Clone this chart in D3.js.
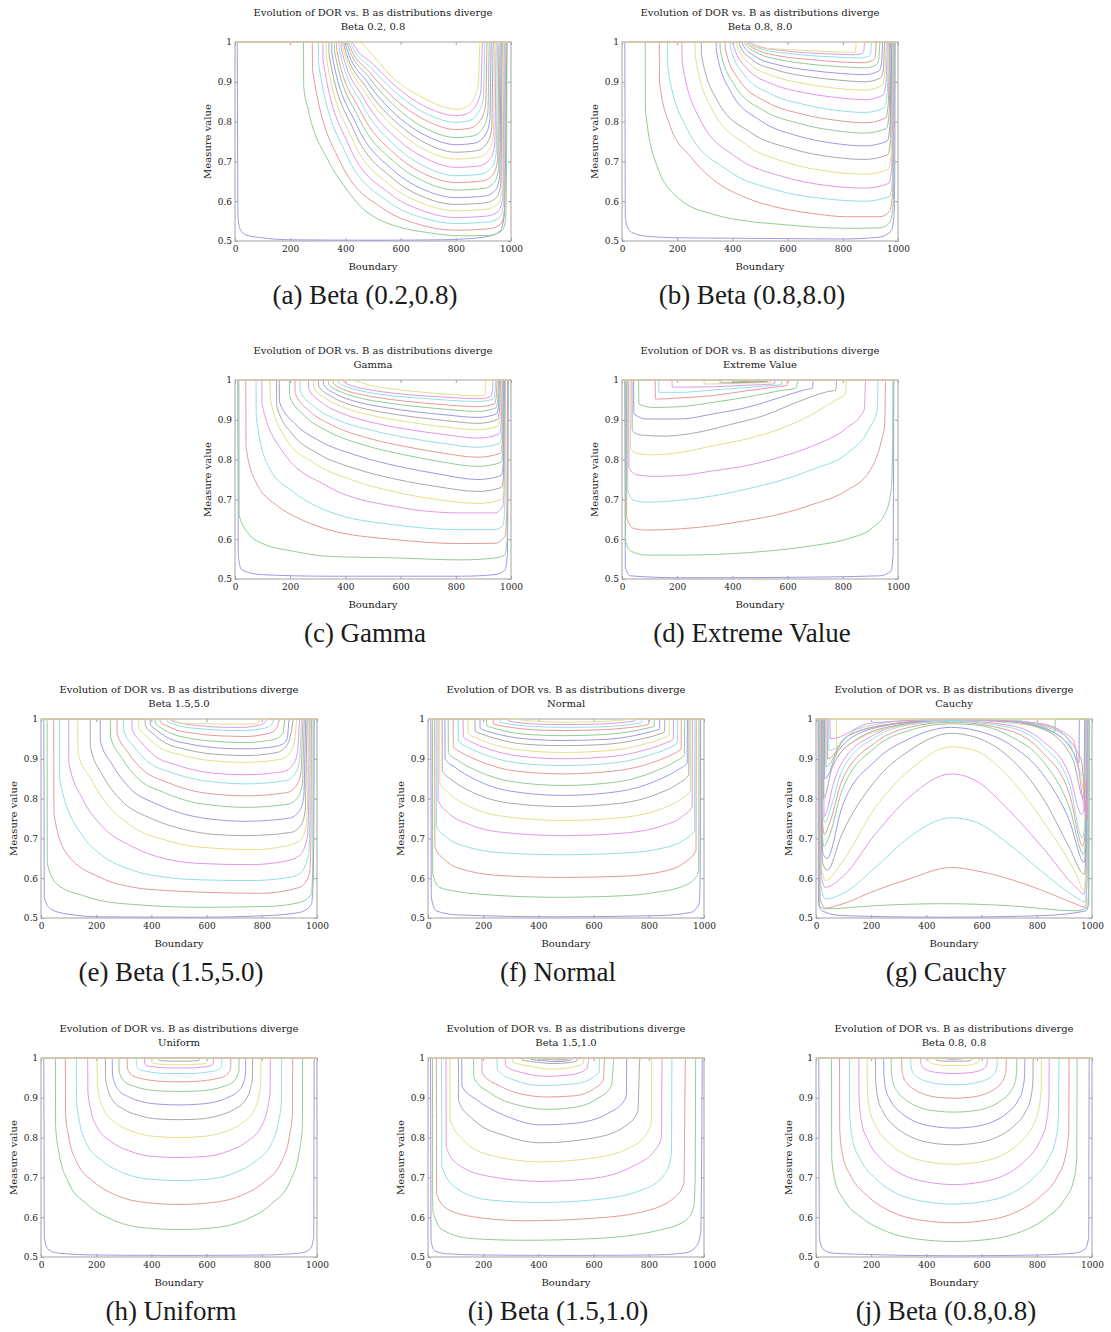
<!DOCTYPE html>
<html>
<head>
<meta charset="utf-8">
<script src="https://cdn.jsdelivr.net/npm/d3@7"></script>
<style>
  body { margin: 0; background: #fff; }
  text { font-family: "DejaVu Serif", serif; fill: #1a1a1a; }
  .caption { font-family: "Liberation Serif", serif; font-size: 27px; }
</style>
</head>
<body>
<svg id="fig" width="1111" height="1332"></svg>
<script>
// colour cycle of the plotting tool: b g r c m y k (faded)
const palette = ["#9a9ae6", "#93cc93", "#e69a9a", "#93dfe6", "#df9ae6", "#e3e08e", "#a9a9a9"];
const xTicks = [0, 200, 400, 600, 800, 1000];
const yTicks = [0.5, 0.6, 0.7, 0.8, 0.9, 1];
const mainTitle = "Evolution of DOR vs. B as distributions diverge";

// each curve: [boundary, measure] pairs
const curvesA = [
  [[0,1],[8,1],[9,.8],[11,.56],[18,.53],[40,.515],[100,.508],[200,.503],[500,.502],[750,.503],[850,.506],[920,.512],[960,.525],[975,.56],[982,.8],[985,1],[1000,1]],
  [[0,1],[248,1],[249,.888],[266,.828],[338,.702],[399,.635],[459,.584],[519,.555],[580,.538],[700,.521],[820,.513],[918,.514],[966,.525],[980,.55],[984,.7],[986,1],[1000,1]],
  [[0,1],[280,1],[281,.929],[384,.695],[540,.580],[670,.541],[800,.527],[922,.531],[962,.542],[976,.575],[982,1],[1000,1]],
  [[0,1],[302,1],[303,.945],[402,.719],[551,.601],[676,.559],[800,.544],[919,.548],[959,.560],[973,.593],[979,1],[1000,1]],
  [[0,1],[318,1],[319,.955],[414,.738],[559,.620],[680,.576],[800,.559],[916,.563],[956,.576],[970,.610],[976,1],[1000,1]],
  [[0,1],[330,1],[331,.962],[424,.758],[565,.639],[682,.594],[800,.576],[913,.580],[953,.594],[967,.628],[973,1],[1000,1]],
  [[0,1],[340,1],[341,.968],[432,.776],[570,.658],[685,.610],[800,.592],[909,.596],[949,.611],[963,.644],[969,1],[1000,1]],
  [[0,1],[350,1],[351,.972],[440,.793],[575,.677],[688,.628],[800,.609],[905,.613],[945,.629],[959,.662],[965,1],[1000,1]],
  [[0,1],[360,1],[361,.976],[448,.810],[580,.697],[690,.648],[800,.628],[901,.632],[941,.649],[955,.682],[961,1],[1000,1]],
  [[0,1],[368,1],[369,.979],[454,.827],[584,.716],[692,.667],[800,.647],[897,.651],[937,.669],[951,.702],[957,1],[1000,1]],
  [[0,1],[377,1],[378,.982],[462,.842],[589,.734],[694,.685],[800,.664],[892,.668],[932,.687],[946,.720],[952,1],[1000,1]],
  [[0,1],[384,1],[385,.984],[467,.858],[592,.754],[696,.706],[800,.685],[887,.689],[927,.709],[941,.742],[947,1],[1000,1]],
  [[0,1],[390,1],[391,.986],[472,.873],[595,.774],[698,.726],[800,.706],[882,.710],[922,.731],[936,.764],[942,1],[1000,1]],
  [[0,1],[395,1],[396,.988],[476,.885],[598,.790],[699,.743],[800,.723],[876,.727],[916,.749],[930,.782],[936,1],[1000,1]],
  [[0,1],[401,1],[402,.990],[481,.898],[600,.807],[700,.762],[800,.742],[869,.746],[909,.769],[923,.802],[929,1],[1000,1]],
  [[0,1],[407,1],[408,.992],[486,.911],[603,.824],[702,.779],[800,.760],[862,.764],[902,.788],[916,.821],[922,1],[1000,1]],
  [[0,1],[413,1],[414,.993],[490,.922],[606,.841],[703,.799],[800,.780],[854,.784],[894,.809],[908,.842],[914,1],[1000,1]],
  [[0,1],[420,1],[421,.995],[496,.933],[610,.857],[705,.816],[800,.798],[846,.802],[886,.828],[900,.861],[906,1],[1000,1]],
  [[0,1],[427,1],[428,.997],[502,.943],[613,.871],[707,.832],[800,.815],[837,.819],[877,.846],[891,.879],[897,1],[1000,1]],
  [[0,1],[447,1],[507,.96],[580,.905],[640,.876],[700,.853],[760,.836],[805,.831],[845,.84],[870,.865],[882,.895],[888,1],[1000,1]]
];

const curvesB = [
  [[0,1],[10,1],[11,.8],[12,.56],[20,.535],[40,.52],[90,.512],[211,.508],[400,.507],[600,.506],[800,.505],[934,.51],[975,.525],[985,.56],[988,.65],[990,1],[1000,1]],
  [[0,1],[84,1],[85,.829],[127,.688],[211,.604],[331,.567],[452,.55],[572,.542],[693,.535],[813,.532],[934,.533],[970,.546],[982,.588],[986,.8],[987,1],[1000,1]],
  [[0,1],[135,1],[136,.9],[175,.788],[247,.713],[331,.654],[452,.608],[572,.583],[693,.569],[813,.561],[934,.561],[970,.575],[980,.62],[984,.8],[985,1],[1000,1]],
  [[0,1],[165,1],[166,.935],[237,.78],[380,.679],[558,.628],[737,.606],[880,.6],[969,.612],[979,.65],[984,1],[1000,1]],
  [[0,1],[217,1],[218,.95],[283,.805],[416,.71],[582,.662],[747,.639],[880,.633],[967,.645],[977,.683],[982,1],[1000,1]],
  [[0,1],[265,1],[266,.962],[327,.83],[450,.742],[603,.696],[757,.674],[880,.668],[965,.68],[975,.718],[980,1],[1000,1]],
  [[0,1],[287,1],[288,.968],[346,.852],[465,.773],[613,.732],[761,.711],[880,.705],[963,.717],[973,.755],[978,1],[1000,1]],
  [[0,1],[341,1],[342,.978],[395,.874],[503,.802],[637,.764],[772,.745],[880,.739],[961,.751],[971,.789],[976,1],[1000,1]],
  [[0,1],[355,1],[356,.981],[408,.891],[513,.828],[644,.795],[775,.777],[880,.771],[958,.783],[968,.821],[973,1],[1000,1]],
  [[0,1],[373,1],[374,.984],[424,.905],[525,.849],[652,.819],[779,.803],[880,.797],[955,.809],[965,.847],[970,1],[1000,1]],
  [[0,1],[392,1],[393,.987],[441,.919],[538,.87],[660,.843],[782,.828],[880,.823],[951,.835],[961,.873],[966,1],[1000,1]],
  [[0,1],[404,1],[405,.989],[452,.934],[547,.894],[666,.872],[785,.86],[880,.855],[947,.867],[957,.905],[962,1],[1000,1]],
  [[0,1],[416,1],[417,.991],[462,.946],[555,.913],[671,.894],[787,.883],[880,.879],[943,.891],[953,.929],[958,1],[1000,1]],
  [[0,1],[425,1],[426,.993],[471,.956],[562,.929],[675,.913],[789,.904],[880,.9],[937,.91],[947,.93],[952,1],[1000,1]],
  [[0,1],[435,1],[436,.995],[480,.965],[569,.942],[680,.929],[791,.921],[880,.918],[930,.927],[940,.945],[945,1],[1000,1]],
  [[0,1],[445,1],[446,.996],[489,.973],[576,.955],[684,.944],[793,.938],[880,.935],[920,.942],[930,.955],[935,1],[1000,1]],
  [[0,1],[452,1],[453,.997],[494,.979],[577,.964],[682,.956],[786,.95],[870,.948],[907,.953],[917,.962],[922,1],[1000,1]],
  [[0,1],[458,1],[459,.998],[498,.984],[579,.973],[679,.966],[780,.962],[860,.96],[890,.963],[900,.968],[905,1],[1000,1]],
  [[0,1],[464,1],[465,.999],[501,.988],[574,.979],[665,.973],[757,.97],[830,.968],[865,.97],[875,.974],[880,1],[1000,1]],
  [[0,1],[450,1],[470,.988],[600,.981],[750,.976],[845,.974],[849,1],[1000,1]]
];

const curvesC = [
  [[0,1],[10,1],[11,.8],[12,.557],[24,.523],[97,.511],[338,.507],[821,.507],[942,.511],[978,.523],[987,.565],[989,.8],[990,1],[1000,1]],
  [[0,1],[14,1],[15,.66],[48,.615],[97,.59],[217,.569],[338,.557],[580,.553],[821,.548],[942,.553],[978,.561],[986,.6],[988,.8],[989,1],[1000,1]],
  [[0,1],[39,1],[40,.833],[72,.749],[157,.682],[217,.657],[338,.624],[580,.599],[821,.589],[942,.59],[978,.607],[985,.68],[988,1],[1000,1]],
  [[0,1],[76,1],[77,.908],[121,.783],[217,.716],[338,.67],[580,.636],[821,.624],[942,.624],[972,.636],[978,.7],[980,1],[1000,1]],
  [[0,1],[97,1],[98,.94],[169,.824],[338,.732],[580,.682],[821,.666],[942,.666],[970,.682],[976,.75],[978,1],[1000,1]],
  [[0,1],[127,1],[128,.952],[187,.85],[278,.795],[428,.748],[579,.719],[729,.7],[880,.69],[967,.7],[974,.73],[977,1],[1000,1]],
  [[0,1],[150,1],[151,.935],[208,.864],[296,.817],[442,.776],[588,.75],[734,.732],[880,.72],[966,.73],[973,.76],[976,1],[1000,1]],
  [[0,1],[160,1],[161,.945],[218,.89],[304,.848],[448,.809],[592,.783],[736,.764],[880,.75],[965,.76],[972,.79],[975,1],[1000,1]],
  [[0,1],[197,1],[198,.96],[252,.91],[334,.872],[470,.836],[607,.813],[743,.795],[880,.783],[964,.793],[971,.823],[974,1],[1000,1]],
  [[0,1],[217,1],[218,.967],[270,.922],[350,.887],[482,.854],[615,.833],[747,.817],[880,.806],[962,.816],[969,.846],[972,1],[1000,1]],
  [[0,1],[235,1],[236,.973],[287,.933],[364,.902],[493,.874],[622,.855],[751,.841],[880,.831],[960,.841],[967,.871],[970,1],[1000,1]],
  [[0,1],[266,1],[267,.978],[315,.943],[389,.916],[512,.891],[634,.875],[757,.863],[880,.854],[958,.864],[965,.894],[968,1],[1000,1]],
  [[0,1],[284,1],[285,.982],[332,.952],[403,.929],[522,.907],[642,.893],[761,.882],[880,.875],[955,.885],[962,.915],[965,1],[1000,1]],
  [[0,1],[302,1],[303,.985],[348,.959],[418,.938],[533,.919],[649,.907],[764,.898],[880,.891],[952,.901],[959,.931],[962,1],[1000,1]],
  [[0,1],[320,1],[321,.988],[365,.965],[432,.947],[544,.931],[656,.92],[768,.912],[880,.906],[948,.915],[955,.94],[958,1],[1000,1]],
  [[0,1],[338,1],[339,.99],[381,.971],[446,.956],[555,.942],[663,.933],[772,.926],[880,.921],[945,.93],[952,.95],[955,1],[1000,1]],
  [[0,1],[356,1],[357,.992],[398,.975],[461,.963],[566,.951],[670,.943],[775,.937],[880,.933],[940,.94],[947,.96],[950,1],[1000,1]],
  [[0,1],[374,1],[375,.994],[414,.981],[475,.97],[576,.96],[678,.954],[779,.949],[880,.946],[935,.952],[942,.97],[945,1],[1000,1]],
  [[0,1],[392,1],[393,.996],[431,.984],[490,.975],[587,.966],[685,.96],[782,.956],[880,.953],[926,.958],[933,.975],[936,1],[1000,1]],
  [[0,1],[411,1],[500,.985],[600,.975],[700,.968],[800,.963],[880,.96],[905,.962],[909,1],[1000,1]]
];

const curvesD = [
  [[0,1],[10,1],[11,.8],[12,.53],[30,.508],[211,.503],[572,.504],[934,.508],[975,.52],[982,.56],[984,.8],[985,1],[1000,1]],
  [[0,1],[12,1],[13,.596],[30,.571],[90,.56],[211,.56],[452,.566],[693,.584],[813,.6],[910,.63],[958,.672],[976,.73],[981,.85],[982,1],[1000,1]],
  [[0,1],[16,1],[17,.655],[42,.627],[90,.623],[211,.626],[331,.634],[452,.647],[572,.663],[693,.688],[813,.722],[898,.772],[940,.848],[952,.889],[955,1],[1000,1]],
  [[0,1],[20,1],[21,.722],[42,.698],[90,.693],[211,.698],[331,.709],[452,.726],[572,.747],[693,.776],[813,.814],[898,.881],[925,.925],[928,1],[1000,1]],
  [[0,1],[24,1],[25,.781],[54,.762],[114,.758],[211,.76],[331,.772],[452,.785],[572,.806],[693,.835],[813,.879],[878,.925],[883,1],[1000,1]],
  [[0,1],[30,1],[31,.827],[54,.816],[114,.812],[211,.818],[331,.835],[452,.852],[572,.877],[693,.915],[775,.95],[810,.965],[813,1],[1000,1]],
  [[0,1],[36,1],[37,.873],[66,.862],[151,.859],[271,.868],[392,.888],[512,.91],[633,.944],[740,.97],[775,.975],[778,1],[1000,1]],
  [[0,1],[42,1],[43,.915],[90,.902],[211,.902],[331,.915],[452,.931],[572,.956],[660,.975],[690,.98],[693,1],[1000,1]],
  [[0,1],[60,1],[61,.94],[114,.931],[211,.933],[331,.944],[452,.957],[572,.973],[630,.98],[639,1],[1000,1]],
  [[0,1],[120,1],[121,.952],[211,.955],[331,.961],[452,.973],[550,.982],[597,.986],[600,1],[1000,1]],
  [[0,1],[133,1],[134,.969],[211,.969],[331,.975],[452,.981],[540,.986],[577,.988],[580,1],[1000,1]],
  [[0,1],[181,1],[182,.982],[331,.983],[452,.987],[552,.99],[555,1],[1000,1]],
  [[0,1],[297,1],[298,.99],[400,.991],[500,.993],[537,.994],[540,1],[1000,1]],
  [[0,1],[355,1],[356,.993],[450,.994],[527,.996],[530,1],[1000,1]],
  [[0,1],[400,1],[401,.995],[470,.996],[517,.997],[520,1],[1000,1]],
  [[0,1],[420,1],[421,.996],[480,.997],[510,.998],[512,1],[1000,1]],
  [[0,1],[440,1],[441,.997],[503,.998],[505,1],[1000,1]],
  [[0,1],[455,1],[456,.998],[498,.999],[500,1],[1000,1]],
  [[0,1],[465,1],[466,.999],[494,.999],[495,1],[1000,1]],
  [[0,1],[1000,1]]
];

const curvesE = [
  [[0,1],[10,1],[11,.8],[12,.552],[34,.523],[94,.51],[214,.503],[576,.502],[817,.506],[937,.514],[980,.535],[986,.594],[989,.8],[990,1],[1000,1]],
  [[0,1],[22,1],[23,.636],[58,.585],[154,.556],[214,.544],[335,.534],[576,.527],[817,.529],[937,.539],[980,.56],[985,.65],[986,1],[1000,1]],
  [[0,1],[46,1],[47,.761],[94,.661],[214,.602],[335,.577],[455,.569],[576,.565],[793,.562],[937,.577],[973,.611],[978,.7],[980,1],[1000,1]],
  [[0,1],[67,1],[68,.845],[154,.703],[214,.661],[335,.619],[455,.602],[576,.596],[757,.594],[880,.6],[937,.611],[970,.66],[974,.75],[976,1],[1000,1]],
  [[0,1],[100,1],[101,.89],[150,.8],[214,.736],[335,.678],[455,.648],[576,.637],[757,.634],[880,.642],[937,.657],[965,.703],[970,.8],[972,1],[1000,1]],
  [[0,1],[133,1],[134,.915],[180,.85],[214,.81],[335,.728],[455,.695],[576,.678],[769,.672],[880,.68],[937,.694],[960,.73],[966,.8],[968,1],[1000,1]],
  [[0,1],[178,1],[179,.93],[223,.859],[290,.796],[403,.749],[515,.723],[628,.71],[740,.707],[905,.715],[940,.732],[957,.767],[965,1],[1000,1]],
  [[0,1],[214,1],[215,.945],[256,.888],[319,.828],[424,.785],[530,.759],[635,.747],[740,.743],[900,.751],[935,.768],[952,.803],[960,1],[1000,1]],
  [[0,1],[251,1],[252,.955],[290,.905],[349,.852],[447,.815],[544,.792],[642,.782],[740,.778],[895,.786],[930,.803],[947,.838],[955,1],[1000,1]],
  [[0,1],[275,1],[276,.963],[312,.919],[368,.873],[461,.84],[554,.819],[647,.81],[740,.807],[890,.815],[925,.832],[942,.867],[950,1],[1000,1]],
  [[0,1],[299,1],[300,.97],[334,.933],[387,.893],[475,.865],[564,.848],[652,.84],[740,.837],[885,.845],[920,.862],[937,.897],[945,1],[1000,1]],
  [[0,1],[329,1],[330,.975],[362,.943],[411,.908],[493,.884],[576,.869],[658,.862],[740,.86],[878,.868],[913,.885],[930,.92],[938,1],[1000,1]],
  [[0,1],[353,1],[354,.98],[384,.955],[430,.928],[508,.91],[585,.898],[662,.893],[740,.891],[868,.899],[903,.916],[920,.951],[928,1],[1000,1]],
  [[0,1],[377,1],[378,.984],[406,.963],[450,.94],[522,.924],[595,.914],[667,.91],[740,.908],[855,.916],[890,.933],[907,.968],[915,1],[1000,1]],
  [[0,1],[395,1],[396,.987],[423,.97],[464,.951],[533,.938],[602,.93],[671,.926],[740,.925],[840,.93],[875,.937],[892,.95],[900,1],[1000,1]],
  [[0,1],[413,1],[414,.99],[439,.976],[478,.962],[544,.951],[609,.945],[675,.942],[740,.941],[825,.946],[860,.953],[877,.966],[885,1],[1000,1]],
  [[0,1],[431,1],[432,.993],[456,.983],[493,.972],[555,.964],[616,.959],[678,.957],[740,.956],[805,.961],[840,.968],[857,.981],[865,1],[1000,1]],
  [[0,1],[455,1],[456,.995],[478,.988],[512,.981],[569,.976],[626,.973],[683,.971],[740,.971],[785,.974],[820,.979],[837,.988],[845,1],[1000,1]],
  [[0,1],[470,1],[471,.997],[492,.992],[524,.987],[578,.983],[632,.98],[686,.979],[740,.979],[760,.981],[795,.985],[812,.992],[820,1],[1000,1]],
  [[0,1],[470,1],[500,.99],[600,.988],[700,.987],[785,.988],[793,1],[1000,1]]
];

const curvesF = [
  [[0,1],[10,1],[11,.8],[12,.552],[30,.518],[103,.508],[467,.503],[830,.506],[952,.514],[982,.535],[986,.6],[988,1],[1000,1]],
  [[0,1],[16,1],[17,.611],[42,.577],[103,.567],[224,.558],[467,.552],[709,.556],[830,.565],[927,.581],[970,.602],[981,.62],[982,1],[1000,1]],
  [[0,1],[24,1],[25,.678],[61,.646],[141,.619],[280,.606],[490,.602],[707,.605],[852,.617],[933,.641],[971,.67],[972,1],[1000,1]],
  [[0,1],[30,1],[31,.73],[67,.703],[145,.678],[283,.663],[490,.659],[705,.663],[848,.675],[929,.697],[966,.72],[967,1],[1000,1]],
  [[0,1],[36,1],[37,.795],[72,.765],[150,.735],[286,.714],[490,.707],[701,.713],[841,.73],[921,.755],[957,.78],[958,1],[1000,1]],
  [[0,1],[42,1],[43,.84],[78,.812],[154,.779],[288,.754],[490,.745],[698,.752],[836,.772],[915,.798],[951,.82],[952,1],[1000,1]],
  [[0,1],[51,1],[52,.87],[86,.847],[161,.816],[292,.789],[490,.78],[695,.788],[832,.812],[910,.839],[945,.86],[946,1],[1000,1]],
  [[0,1],[61,1],[62,.9],[95,.88],[168,.849],[297,.819],[490,.808],[693,.818],[828,.845],[904,.872],[939,.89],[940,1],[1000,1]],
  [[0,1],[73,1],[74,.915],[106,.897],[177,.87],[302,.843],[490,.833],[688,.842],[820,.868],[895,.893],[929,.91],[930,1],[1000,1]],
  [[0,1],[91,1],[92,.93],[123,.915],[191,.893],[310,.87],[490,.862],[683,.87],[811,.89],[884,.911],[917,.925],[918,1],[1000,1]],
  [[0,1],[109,1],[110,.945],[139,.931],[204,.911],[319,.89],[490,.883],[677,.89],[801,.909],[872,.927],[904,.94],[905,1],[1000,1]],
  [[0,1],[127,1],[128,.955],[156,.943],[218,.925],[327,.907],[490,.9],[670,.906],[790,.923],[858,.939],[889,.95],[890,1],[1000,1]],
  [[0,1],[145,1],[146,.963],[173,.953],[231,.937],[335,.922],[490,.916],[663,.921],[779,.936],[844,.95],[874,.96],[875,1],[1000,1]],
  [[0,1],[170,1],[171,.97],[196,.962],[250,.95],[346,.937],[490,.933],[656,.937],[766,.949],[829,.96],[857,.968],[858,1],[1000,1]],
  [[0,1],[188,1],[189,.977],[212,.97],[264,.96],[354,.95],[490,.946],[648,.949],[753,.959],[812,.969],[839,.975],[840,1],[1000,1]],
  [[0,1],[212,1],[213,.983],[234,.978],[282,.969],[365,.961],[490,.958],[639,.961],[738,.969],[794,.977],[819,.982],[820,1],[1000,1]],
  [[0,1],[236,1],[237,.988],[256,.984],[300,.979],[376,.973],[490,.971],[630,.973],[723,.978],[775,.983],[799,.987],[800,1],[1000,1]],
  [[0,1],[261,1],[262,.992],[279,.989],[318,.985],[387,.981],[490,.979],[618,.98],[704,.984],[752,.988],[774,.991],[775,1],[1000,1]],
  [[0,1],[291,1],[292,.995],[307,.993],[341,.99],[400,.987],[490,.986],[607,.987],[685,.99],[729,.993],[749,.995],[750,1],[1000,1]],
  [[0,1],[333,1],[334,.998],[345,.997],[372,.995],[419,.993],[490,.992],[594,.993],[663,.995],[702,.997],[719,.998],[720,1],[1000,1]]
];

const curvesG = [
  [[0,1],[7,1],[8,.8],[9,.535],[22,.518],[94,.506],[458,.502],[821,.506],[978,.518],[988,.535],[989,.8],[990,1],[1000,1]],
  [[0,1],[10,1],[11,.7],[13,.53],[34,.523],[215,.531],[458,.536],[700,.531],[942,.518],[984,.527],[988,.6],[990,1],[1000,1]],
  [[0,1],[12,1],[13,.7],[15,.548],[34,.525],[94,.535],[215,.569],[337,.598],[490,.627],[579,.619],[700,.598],[821,.569],[942,.535],[976,.527],[982,.6],[984,1],[1000,1]],
  [[0,1],[15,1],[16,.7],[18,.58],[34,.548],[94,.56],[215,.627],[337,.703],[490,.752],[579,.741],[700,.685],[821,.615],[942,.552],[975,.54],[982,.6],[985,1],[1000,1]],
  [[0,1],[17,1],[18,.7],[20,.6],[34,.577],[94,.602],[215,.711],[337,.803],[490,.862],[579,.845],[700,.77],[821,.677],[942,.577],[972,.56],[980,.65],[983,1],[1000,1]],
  [[0,1],[18,1],[19,.7],[22,.62],[34,.594],[94,.64],[215,.778],[337,.87],[490,.93],[579,.92],[700,.853],[821,.745],[942,.611],[972,.569],[980,.7],[982,1],[1000,1]],
  [[0,1],[19,1],[20,.7],[24,.64],[40,.62],[94,.711],[215,.845],[337,.92],[490,.964],[579,.954],[700,.904],[821,.803],[918,.677],[972,.61],[980,.7],[981,1],[1000,1]],
  [[0,1],[20,1],[22,.7],[26,.66],[40,.65],[94,.778],[215,.895],[337,.95],[490,.979],[579,.971],[700,.937],[821,.862],[918,.745],[972,.64],[978,.7],[980,1],[1000,1]],
  [[0,1],[21,1],[23,.72],[28,.68],[45,.7],[94,.82],[215,.929],[337,.971],[490,.988],[579,.985],[700,.958],[821,.895],[918,.778],[970,.66],[977,.7],[979,1],[1000,1]],
  [[0,1],[22,1],[24,.74],[30,.71],[50,.74],[94,.845],[215,.941],[337,.979],[490,.992],[700,.971],[821,.916],[918,.812],[968,.68],[975,.72],[978,1],[1000,1]],
  [[0,1],[23,1],[25,.76],[32,.74],[55,.78],[94,.87],[215,.954],[337,.985],[490,.994],[700,.979],[821,.933],[918,.837],[966,.7],[974,.74],[977,1],[1000,1]],
  [[0,1],[28,1],[29,.755],[40,.77],[60,.83],[94,.89],[215,.962],[337,.988],[490,.996],[700,.984],[821,.945],[918,.86],[963,.76],[972,.78],[975,1],[1000,1]],
  [[0,1],[74,1],[75,.905],[100,.925],[155,.95],[276,.979],[490,.997],[700,.99],[857,.966],[942,.9],[960,.85],[972,.82],[975,1],[1000,1]],
  [[0,1],[25,1],[27,.8],[60,.88],[150,.95],[300,.985],[490,.998],[700,.993],[821,.975],[930,.9],[970,.8],[974,1],[1000,1]],
  [[0,1],[30,1],[32,.85],[80,.92],[200,.975],[400,.995],[490,.998],[700,.994],[850,.97],[930,.92],[953,.89],[954,1],[1000,1]],
  [[0,1],[35,1],[37,.88],[100,.95],[250,.985],[490,.999],[700,.995],[830,.978],[866,.967],[867,1],[1000,1]],
  [[0,1],[40,1],[42,.9],[120,.96],[300,.99],[500,.999],[700,.996],[850,.98],[960,.9],[983,.75],[985,1],[1000,1]],
  [[0,1],[45,1],[47,.92],[150,.975],[350,.996],[700,.997],[900,.96],[978,.85],[980,1],[1000,1]],
  [[0,1],[50,1],[52,.95],[200,.99],[500,.999],[800,.99],[930,.95],[982,.76],[984,1],[1000,1]],
  [[0,1],[1000,1]]
];

const curvesH = [
  [[0,1],[10,1],[11,.8],[12,.55],[25,.52],[60,.51],[200,.505],[500,.504],[800,.505],[940,.51],[975,.52],[988,.55],[989,.8],[990,1],[1000,1]],
  [[0,1],[52,1],[53,.828],[65,.763],[97,.691],[164,.634],[254,.595],[366,.574],[500,.569],[634,.574],[746,.595],[836,.634],[903,.691],[935,.763],[947,.828],[948,1],[1000,1]],
  [[0,1],[88,1],[89,.86],[100,.803],[129,.739],[191,.689],[273,.655],[376,.637],[500,.632],[624,.637],[727,.655],[809,.689],[871,.739],[900,.803],[911,.86],[912,1],[1000,1]],
  [[0,1],[128,1],[129,.89],[139,.841],[165,.785],[221,.742],[295,.712],[388,.696],[500,.692],[612,.696],[705,.712],[779,.742],[835,.785],[861,.841],[871,.89],[872,1],[1000,1]],
  [[0,1],[169,1],[170,.915],[179,.874],[202,.828],[252,.791],[318,.767],[401,.753],[500,.75],[599,.753],[682,.767],[748,.791],[798,.828],[821,.874],[830,.915],[831,1],[1000,1]],
  [[0,1],[203,1],[204,.935],[212,.901],[233,.863],[277,.834],[337,.814],[411,.803],[500,.8],[589,.803],[663,.814],[723,.834],[767,.863],[788,.901],[796,.935],[797,1],[1000,1]],
  [[0,1],[233,1],[234,.95],[241,.924],[260,.894],[300,.871],[353,.856],[420,.847],[500,.845],[580,.847],[647,.856],[700,.871],[740,.894],[759,.924],[766,.95],[767,1],[1000,1]],
  [[0,1],[258,1],[259,.96],[265,.941],[282,.919],[319,.902],[367,.89],[427,.884],[500,.882],[573,.884],[633,.89],[681,.902],[718,.919],[735,.941],[741,.96],[742,1],[1000,1]],
  [[0,1],[282,1],[283,.968],[289,.955],[304,.94],[337,.929],[380,.921],[435,.917],[500,.916],[565,.917],[620,.921],[663,.929],[696,.94],[711,.955],[717,.968],[718,1],[1000,1]],
  [[0,1],[312,1],[313,.975],[318,.966],[331,.956],[359,.949],[397,.944],[444,.941],[500,.94],[556,.941],[603,.944],[641,.949],[669,.956],[682,.966],[687,.975],[688,1],[1000,1]],
  [[0,1],[345,1],[346,.98],[350,.975],[361,.97],[384,.966],[415,.963],[454,.961],[500,.961],[546,.961],[585,.963],[616,.966],[639,.97],[650,.975],[654,.98],[655,1],[1000,1]],
  [[0,1],[375,1],[376,.985],[379,.983],[388,.98],[406,.978],[431,.976],[463,.975],[500,.975],[537,.975],[569,.976],[594,.978],[612,.98],[621,.983],[624,.985],[625,1],[1000,1]],
  [[0,1],[400,1],[401,.99],[403,.988],[410,.986],[425,.985],[445,.984],[470,.983],[500,.983],[530,.983],[555,.984],[575,.985],[590,.986],[597,.988],[599,.99],[600,1],[1000,1]],
  [[0,1],[425,1],[426,.995],[433,.993],[444,.993],[459,.992],[500,.992],[541,.992],[556,.993],[567,.993],[574,.995],[575,1],[1000,1]],
  [[0,1],[1000,1]], [[0,1],[1000,1]], [[0,1],[1000,1]], [[0,1],[1000,1]], [[0,1],[1000,1]], [[0,1],[1000,1]]
];

const curvesI = [
  [[0,1],[9,1],[10,.8],[11,.54],[25,.515],[70,.508],[200,.505],[500,.504],[800,.505],[930,.51],[970,.525],[988,.56],[992,.8],[994,1],[1000,1]],
  [[0,1],[16,1],[17,.62],[24,.601],[55,.567],[165,.546],[348,.542],[591,.546],[835,.567],[933,.592],[963,.626],[968,.7],[970,1],[1000,1]],
  [[0,1],[30,1],[31,.66],[67,.622],[165,.601],[348,.591],[591,.597],[774,.613],[896,.651],[927,.685],[933,1],[1000,1]],
  [[0,1],[49,1],[50,.727],[104,.672],[226,.643],[409,.637],[591,.643],[774,.668],[860,.71],[882,.76],[884,1],[1000,1]],
  [[0,1],[65,1],[66,.777],[104,.735],[226,.702],[409,.69],[591,.697],[738,.727],[823,.769],[846,.8],[848,1],[1000,1]],
  [[0,1],[79,1],[80,.845],[128,.794],[226,.756],[409,.739],[591,.748],[738,.777],[799,.819],[809,.84],[811,1],[1000,1]],
  [[0,1],[110,1],[111,.891],[165,.845],[287,.803],[409,.787],[591,.798],[713,.828],[760,.865],[768,1],[1000,1]],
  [[0,1],[122,1],[123,.929],[177,.895],[287,.853],[409,.832],[530,.836],[652,.861],[713,.895],[719,.91],[720,1],[1000,1]],
  [[0,1],[165,1],[166,.95],[226,.912],[348,.878],[433,.871],[530,.876],[616,.899],[665,.93],[674,1],[1000,1]],
  [[0,1],[195,1],[196,.962],[262,.929],[348,.908],[433,.902],[530,.905],[604,.924],[636,.945],[640,1],[1000,1]],
  [[0,1],[250,1],[251,.97],[311,.945],[409,.931],[530,.935],[604,.954],[620,.965],[622,1],[1000,1]],
  [[0,1],[280,1],[281,.98],[348,.962],[433,.954],[518,.958],[575,.972],[585,1],[1000,1]],
  [[0,1],[305,1],[306,.99],[372,.979],[445,.972],[518,.976],[560,.985],[567,1],[1000,1]],
  [[0,1],[341,1],[342,.995],[400,.989],[450,.986],[510,.988],[540,.994],[543,1],[1000,1]],
  [[0,1],[372,1],[373,.997],[420,.993],[460,.991],[510,.993],[530,1],[1000,1]],
  [[0,1],[400,1],[401,.998],[440,.996],[480,.995],[500,.997],[515,1],[1000,1]],
  [[0,1],[440,1],[460,.998],[490,.997],[510,.998],[520,1],[1000,1]],
  [[0,1],[1000,1]], [[0,1],[1000,1]], [[0,1],[1000,1]]
];

const curvesJ = [
  [[0,1],[10,1],[11,.8],[12,.55],[25,.52],[60,.51],[200,.506],[500,.503],[800,.505],[940,.51],[975,.52],[988,.55],[989,.8],[990,1],[1000,1]],
  [[0,1],[56,1],[57,.75],[69,.691],[100,.645],[167,.598],[256,.564],[367,.545],[500,.539],[634,.545],[745,.564],[834,.598],[901,.645],[933,.691],[945,.75],[946,1],[1000,1]],
  [[0,1],[85,1],[86,.82],[97,.754],[127,.703],[189,.652],[272,.614],[376,.593],[500,.586],[625,.593],[729,.614],[813,.652],[875,.703],[904,.754],[916,.82],[917,1],[1000,1]],
  [[0,1],[121,1],[122,.86],[132,.796],[159,.747],[216,.697],[292,.66],[386,.64],[500,.633],[614,.64],[709,.66],[785,.697],[842,.747],[869,.796],[879,.86],[880,1],[1000,1]],
  [[0,1],[155,1],[156,.9],[165,.839],[190,.791],[241,.743],[310,.708],[397,.689],[500,.682],[604,.689],[690,.708],[759,.743],[811,.791],[835,.839],[844,.9],[845,1],[1000,1]],
  [[0,1],[185,1],[186,.925],[194,.871],[217,.829],[264,.787],[327,.756],[406,.739],[500,.733],[595,.739],[674,.756],[738,.787],[785,.829],[807,.871],[816,.925],[817,1],[1000,1]],
  [[0,1],[215,1],[216,.945],[224,.899],[244,.864],[286,.828],[343,.802],[415,.787],[500,.782],[586,.787],[658,.802],[715,.828],[758,.864],[778,.899],[786,.945],[787,1],[1000,1]],
  [[0,1],[245,1],[246,.96],[253,.922],[271,.892],[309,.862],[360,.84],[424,.828],[500,.824],[577,.828],[641,.84],[693,.862],[731,.892],[749,.922],[756,.96],[757,1],[1000,1]],
  [[0,1],[272,1],[273,.968],[279,.939],[295,.916],[329,.893],[375,.876],[432,.867],[500,.864],[568,.867],[625,.876],[671,.893],[705,.916],[721,.939],[727,.968],[728,1],[1000,1]],
  [[0,1],[310,1],[311,.975],[316,.954],[329,.937],[358,.92],[396,.908],[443,.901],[500,.899],[557,.901],[605,.908],[643,.92],[671,.937],[684,.954],[689,.975],[690,1],[1000,1]],
  [[0,1],[343,1],[344,.981],[348,.968],[359,.957],[382,.946],[414,.939],[453,.934],[500,.933],[547,.934],[586,.939],[618,.946],[641,.957],[652,.968],[656,.981],[657,1],[1000,1]],
  [[0,1],[379,1],[380,.987],[383,.98],[391,.974],[409,.968],[433,.964],[464,.962],[500,.961],[536,.962],[567,.964],[591,.968],[609,.974],[617,.98],[620,.987],[621,1],[1000,1]],
  [[0,1],[409,1],[410,.992],[412,.989],[418,.987],[432,.984],[450,.982],[473,.981],[500,.981],[527,.981],[550,.982],[568,.984],[582,.987],[588,.989],[590,.992],[591,1],[1000,1]],
  [[0,1],[433,1],[434,.996],[440,.994],[450,.993],[463,.992],[500,.992],[537,.992],[550,.993],[560,.994],[566,.996],[567,1],[1000,1]],
  [[0,1],[458,1],[470,.998],[500,.997],[530,.998],[542,1],[1000,1]],
  [[0,1],[1000,1]], [[0,1],[1000,1]], [[0,1],[1000,1]], [[0,1],[1000,1]], [[0,1],[1000,1]]
];

const subtitles = ["Beta 0.2, 0.8", "Beta 0.8, 8.0", "Gamma", "Extreme Value", "Beta 1.5,5.0",
                   "Normal", "Cauchy", "Uniform", "Beta 1.5,1.0", "Beta 0.8, 0.8"];
const captions = ["(a) Beta (0.2,0.8)", "(b) Beta (0.8,8.0)", "(c) Gamma", "(d) Extreme Value", "(e) Beta (1.5,5.0)",
                  "(f) Normal", "(g) Cauchy", "(h) Uniform", "(i) Beta (1.5,1.0)", "(j) Beta (0.8,0.8)"];
const allCurves = [curvesA, curvesB, curvesC, curvesD, curvesE, curvesF, curvesG, curvesH, curvesI, curvesJ];

// layout: top-left corner of each plot box
const boxes = [
  [235, 42], [622, 42],
  [235, 380], [622, 380],
  [41, 719], [428, 719], [816, 719],
  [41, 1058], [428, 1058], [816, 1058]
];
const W = 276, H = 199;

const svg = d3.select("#fig");
svg.append("rect").attr("width", 1111).attr("height", 1332).attr("fill", "#fff");

boxes.forEach(function(b, k) {
  var g = svg.append("g").attr("transform", "translate(" + b[0] + "," + b[1] + ")");
  var x = d3.scaleLinear().domain([0, 1000]).range([0, W]);
  var y = d3.scaleLinear().domain([0.5, 1]).range([H, 0]);

  g.append("rect").attr("width", W).attr("height", H)
    .attr("fill", "none").attr("stroke", "#a3a3a3").attr("stroke-width", 1);

  var styleAxis = function(sel) {
    sel.select(".domain").remove();
    sel.selectAll(".tick line").attr("stroke", "#a3a3a3");
    sel.selectAll("text").attr("font-family", "DejaVu Serif").attr("font-size", 9).attr("fill", "#1a1a1a");
  };

  g.append("g").attr("transform", "translate(0," + H + ")")
    .call(d3.axisBottom(x).tickValues(xTicks).tickSize(-3).tickPadding(5).tickFormat(d3.format("d")))
    .call(styleAxis);
  g.append("g")
    .call(d3.axisTop(x).tickValues(xTicks).tickSize(-3).tickFormat(""))
    .call(styleAxis);
  g.append("g")
    .call(d3.axisLeft(y).tickValues(yTicks).tickSize(-3).tickPadding(3)
      .tickFormat(function(d) { return d === 1 ? "1" : d.toFixed(1); }))
    .call(styleAxis);
  g.append("g").attr("transform", "translate(" + W + ",0)")
    .call(d3.axisRight(y).tickValues(yTicks).tickSize(-3).tickFormat(""))
    .call(styleAxis);

  g.append("clipPath").attr("id", "clip" + k)
    .append("rect").attr("x", -1).attr("y", -1).attr("width", W + 2).attr("height", H + 2);

  var line = d3.line()
    .x(function(d) { return x(d[0]); })
    .y(function(d) { return y(d[1]); })
    .curve(d3.curveMonotoneX);

  g.append("g").attr("clip-path", "url(#clip" + k + ")")
    .selectAll("path").data(allCurves[k]).enter()
    .append("path")
    .attr("d", line)
    .attr("fill", "none")
    .attr("stroke", function(d, i) { return palette[i % 7]; })
    .attr("stroke-width", 1);

  // titles
  g.append("text").attr("x", W / 2).attr("y", -26.5).attr("text-anchor", "middle")
    .attr("font-size", 10).text(mainTitle);
  g.append("text").attr("x", W / 2).attr("y", -12.5).attr("text-anchor", "middle")
    .attr("font-size", 10).text(subtitles[k]);
  g.append("text").attr("x", W / 2).attr("y", H + 28.5).attr("text-anchor", "middle")
    .attr("font-size", 10).text("Boundary");
  g.append("text").attr("transform", "translate(-24," + (H / 2) + ") rotate(-90)")
    .attr("text-anchor", "middle").attr("font-size", 10).text("Measure value");

  g.append("text").attr("class", "caption")
    .attr("x", W / 2 - 8).attr("y", H + 63).attr("text-anchor", "middle")
    .text(captions[k]);
});
</script>
</body>
</html>
